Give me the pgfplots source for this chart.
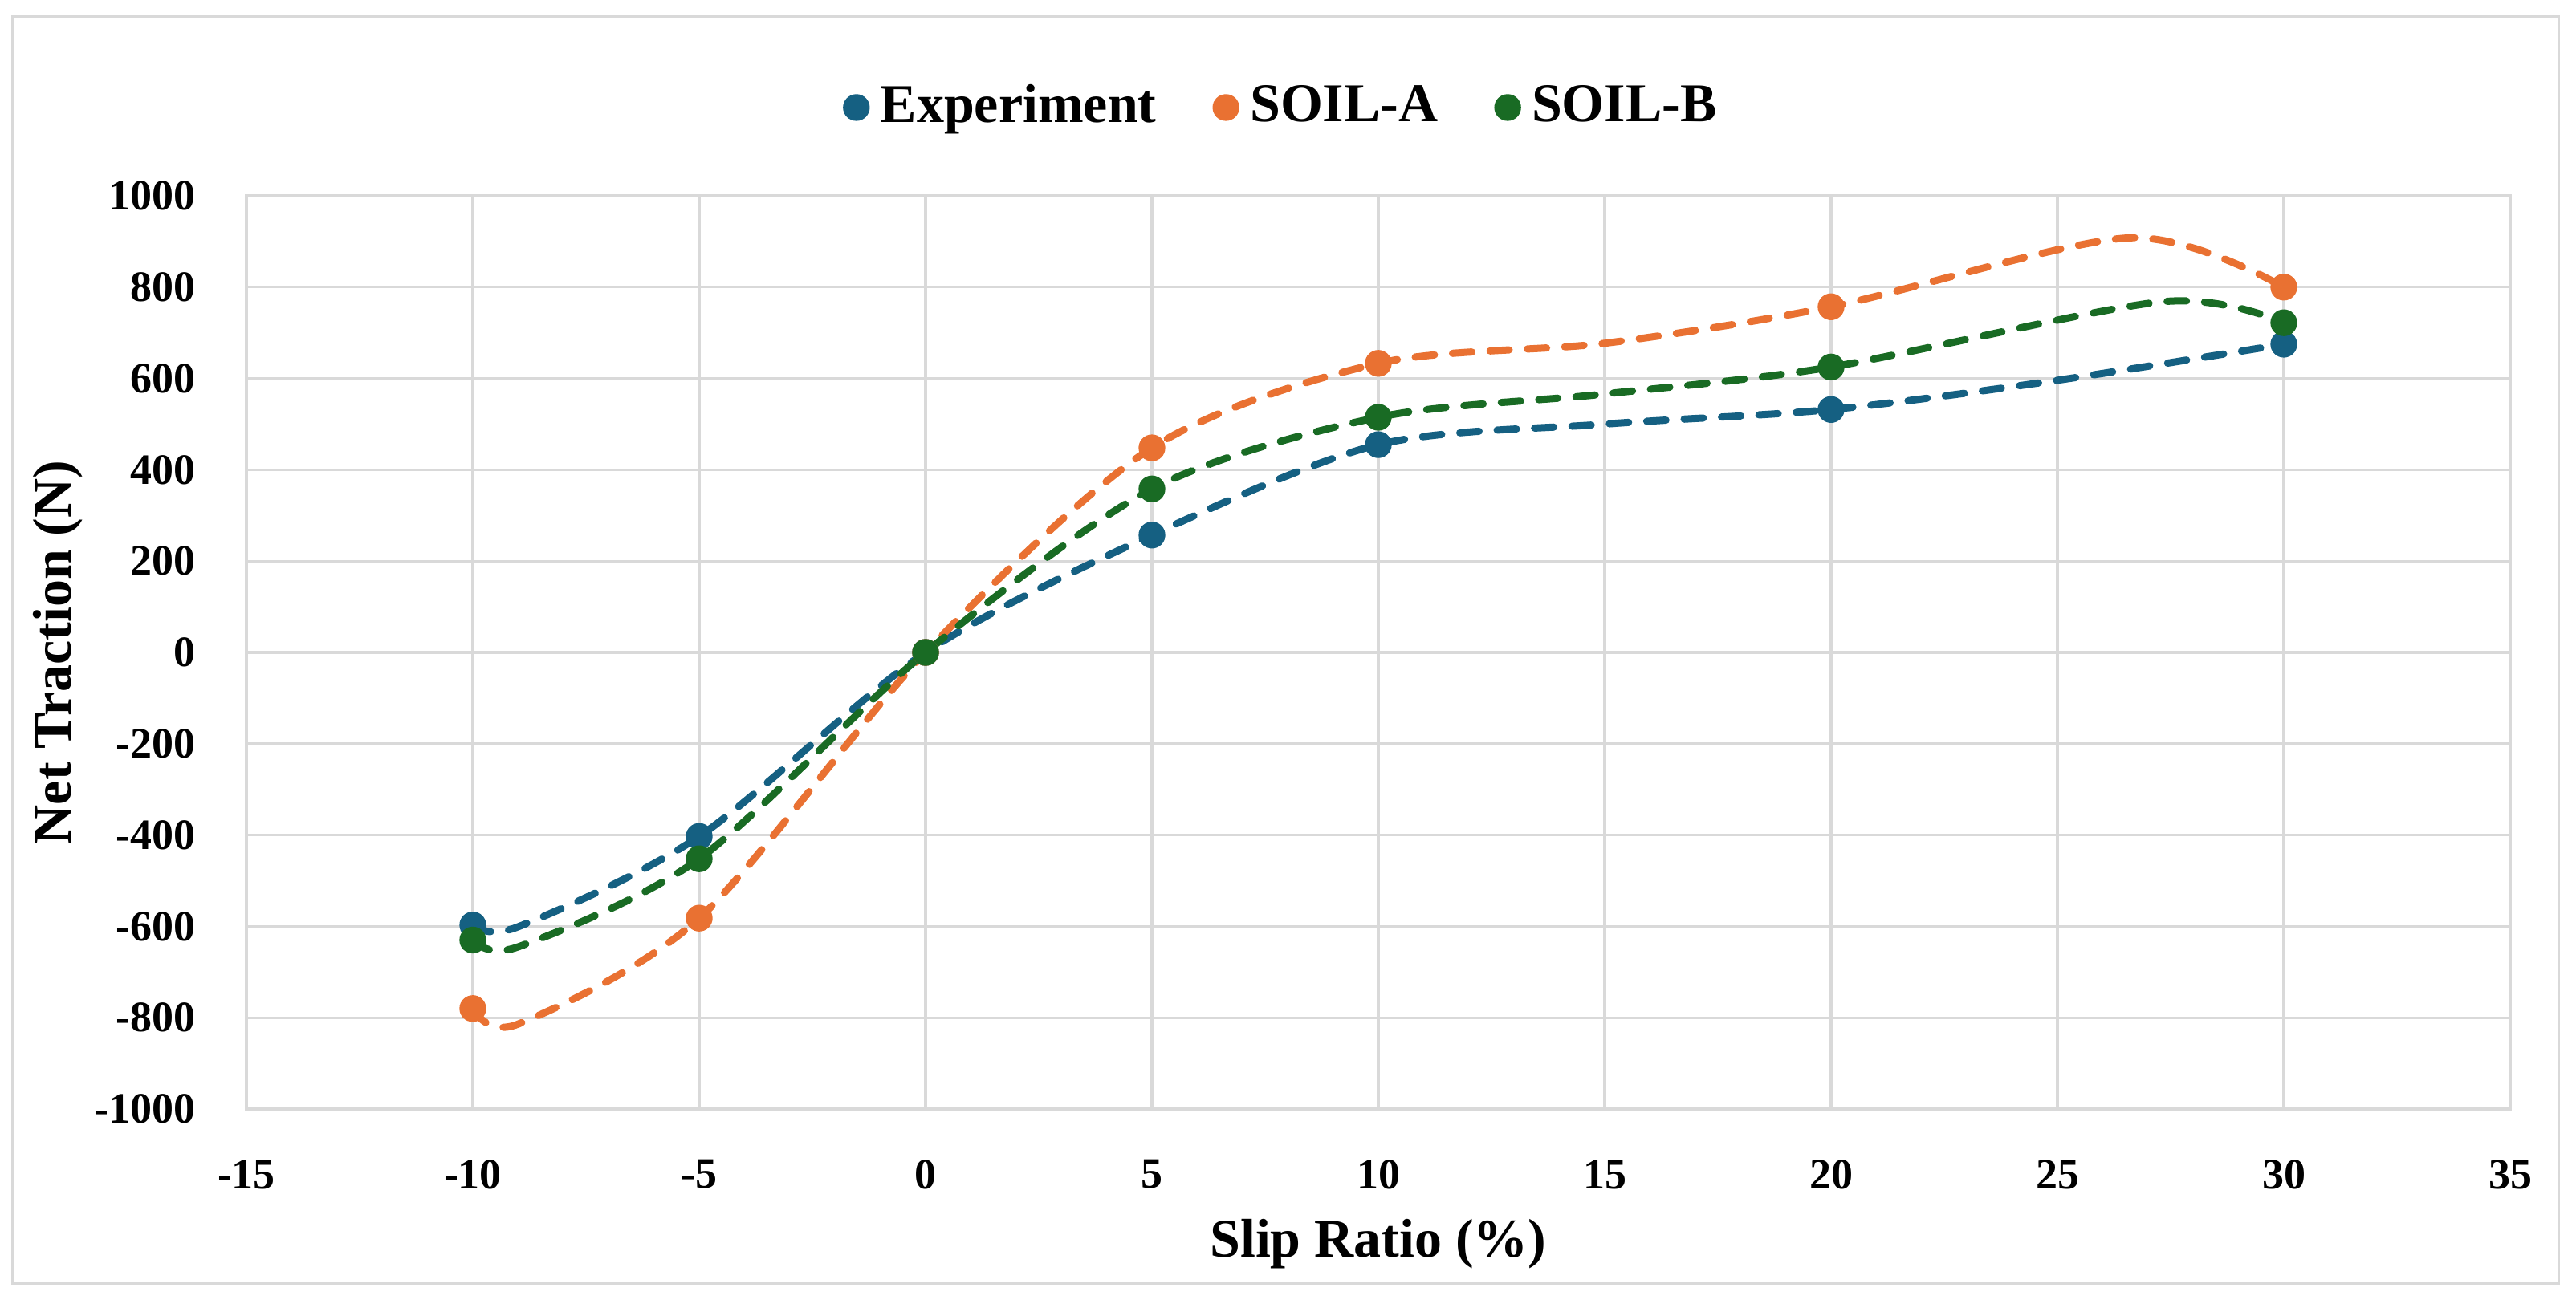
\documentclass[border=0pt]{standalone}
\usepackage{pgfplots}
\pgfplotsset{compat=1.18}
\usepackage{fontspec}
\setmainfont{Liberation Serif}
\definecolor{cexp}{HTML}{156082}
\definecolor{csa}{HTML}{E97132}
\definecolor{csb}{HTML}{196B24}
\definecolor{cgrid}{HTML}{D9D9D9}
\begin{document}
\begin{tikzpicture}
\path[use as bounding box] (-46.05pt,-36.3pt) rectangle (435.3pt,207.3pt);
\draw[cgrid, line width=0.45pt] (-43.65pt,-32.55pt) rectangle (432pt,204.15pt);
\begin{axis}[
  at={(0pt,0pt)}, anchor=south west,
  scale only axis, width=423pt, height=170.7pt,
  xmin=-15, xmax=35, ymin=-1000, ymax=1000,
  xtick={-15,-10,...,35}, ytick={-1000,-800,...,1000},
  grid=major, major grid style={cgrid, line width=0.5pt},
  axis line style={cgrid, line width=0.5pt},
  tick style={draw=none},
  /pgf/number format/assume math mode=true,
  /pgf/number format/1000 sep={},
  ticklabel style={font=\fontsize{8.1}{9.5}\selectfont\bfseries},
  yticklabel style={xshift=-6pt},
  xticklabel style={yshift=-6pt},
  xlabel={Slip Ratio (\%)}, ylabel={Net Traction (N)},
  every axis x label/.style={at={(axis description cs:0.5,0)}, anchor=center, yshift=-25.2pt,
    font=\fontsize{10.2}{12}\selectfont\bfseries},
  every axis y label/.style={at={(axis description cs:0,0.5)}, anchor=center, xshift=-35.25pt, rotate=90,
    font=\fontsize{10.2}{12}\selectfont\bfseries},
  legend style={at={(0.4589,1.0967)}, anchor=center, draw=none, fill=none,
    font=\fontsize{10.2}{12}\selectfont\bfseries,
    /tikz/every even column/.append style={column sep=8.5pt}},
  legend columns=3,
]
\addlegendimage{legend image code/.code={\fill[cexp] (0pt,0pt) circle (2.3pt);}}
\addlegendentry{Experiment}
\addlegendimage{legend image code/.code={\fill[csa] (0pt,0pt) circle (2.3pt);}}
\addlegendentry{SOIL-A}
\addlegendimage{legend image code/.code={\fill[csb] (0pt,0pt) circle (2.3pt);}}
\addlegendentry{SOIL-B}

% smoothed dashed trend lines (data points plus points)
\addplot[cexp, line width=1.35pt, dash pattern=on 3.6pt off 3.4pt, line cap=round, smooth, tension=0.5, forget plot]
  coordinates {(-10,-597) (-9,-601) (-5,-403) (0,0) (5,257) (10,455) (15,500) (20,532) (25,596) (30,675)};
\addplot[cexp, only marks, mark=*, mark size=2.3pt, forget plot]
  coordinates {(-10,-597) (-5,-403) (0,0) (5,257) (10,455) (20,532) (30,675)};

\addplot[csa, line width=1.35pt, dash pattern=on 3.6pt off 3.4pt, line cap=round, smooth, tension=0.5, forget plot]
  coordinates {(-10,-780) (-9,-814) (-5,-582) (0,0) (5,448) (10,633) (15,677) (20,757) (26.6,908) (30,800)};
\addplot[csa, only marks, mark=*, mark size=2.3pt, forget plot]
  coordinates {(-10,-780) (-5,-582) (0,0) (5,448) (10,633) (20,757) (30,800)};

\addplot[csb, line width=1.35pt, dash pattern=on 3.6pt off 3.4pt, line cap=round, smooth, tension=0.5, forget plot]
  coordinates {(-10,-630) (-9,-645) (-5,-452) (0,0) (5,358) (10,515) (15,566) (20,625) (27.3,768) (30,722)};
\addplot[csb, only marks, mark=*, mark size=2.3pt, forget plot]
  coordinates {(-10,-630) (-5,-452) (0,0) (5,358) (10,515) (20,625) (30,722)};
\end{axis}
\end{tikzpicture}
\end{document}
